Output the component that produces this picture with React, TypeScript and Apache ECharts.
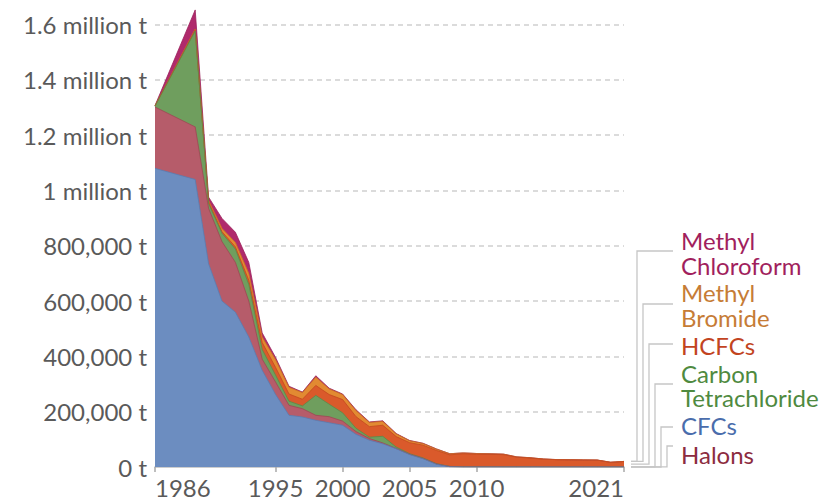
import React, { useEffect, useRef } from 'react';
import * as echarts from 'echarts';

// Years with data (1987 and 1988 are not in the source)
const YEARS = [
  1986, 1989, 1990, 1991, 1992, 1993, 1994, 1995, 1996, 1997, 1998, 1999, 2000,
  2001, 2002, 2003, 2004, 2005, 2006, 2007, 2008, 2009, 2010, 2011, 2012, 2013,
  2014, 2015, 2016, 2017, 2018, 2019, 2020, 2021,
];

// Consumption, tonnes (ODP-weighted)
const CFCS = [
  1080000, 1040000, 735000, 600000, 560000, 470000, 350000, 262000, 187000, 181000,
  169000, 160000, 151000, 118000, 97000, 84000, 66000, 45000, 30000, 10000, 1000,
  0, 0, 0, 0, 0, 0, 0, 0, 0, 0, 0, 0, 0,
];
const HALONS = [
  222000, 190000, 200000, 215000, 180000, 130000, 40000, 45000, 36000, 30000,
  18000, 22000, 15000, 10000, 6000, 3000, 1000, 1000, 1000, 1000, 500,
  500, 400, 400, 300, 300, 300, 200, 200, 200, 200, 200, 200, 200,
];
const CARBON_TET = [
  3000, 347000, 18000, 30000, 48000, 60000, 35000, 25000, 15000, 10000,
  72000, 45000, 30000, 12000, 5000, 24000, 5000, 2000, 2000, 1000, 500,
  500, 400, 400, 300, 300, 300, 200, 200, 200, 200, 200, 200, 200,
];
const HCFCS = [
  1000, 4000, 5000, 6000, 8000, 15000, 25000, 28000, 26000, 24000,
  36000, 35000, 48000, 42000, 38000, 40000, 38000, 40000, 46000, 48000, 42000,
  47000, 45000, 45000, 44000, 35000, 32000, 28000, 26000, 25500, 25000, 24500, 16500, 19500,
];
const METHYL_BROMIDE = [
  0, 3000, 6000, 12000, 16000, 25000, 20000, 28000, 24000, 24000,
  30000, 20000, 18000, 22000, 15000, 14000, 10000, 7000, 6000, 5000, 4000,
  3000, 3000, 2000, 2000, 1000, 1000, 500, 400, 300, 300, 300, 300, 300,
];
const METHYL_CHLOROFORM = [
  1000, 69000, 12000, 36000, 37000, 40000, 15000, 8000, 4000, 2000,
  5000, 3000, 2000, 3000, 2000, 2000, 1000, 1000, 1000, 500, 0,
  0, 0, 0, 0, 0, 0, 0, 0, 0, 0, 0, 0, 0,
];

// Stacking order, bottom to top
const SERIES_NAMES = ['CFCs', 'Halons', 'Carbon Tetrachloride', 'HCFCs', 'Methyl Bromide', 'Methyl Chloroform'];
const SERIES_VALUES = [CFCS, HALONS, CARBON_TET, HCFCS, METHYL_BROMIDE, METHYL_CHLOROFORM];
const FILL_COLORS = ['#6c8dc0', '#b65c6a', '#6f9e5e', '#da5a2b', '#e28a32', '#b02a6c'];
const LINE_COLORS = ['#5b7cb0', '#a04654', '#5a8a4a', '#c4481f', '#cc7424', '#9a1f5a'];
const TEXT_COLORS = ['#4a6dac', '#8c2c40', '#4f8a3f', '#c2441f', '#c67c36', '#a11f5d'];

const X_TICKS = [1986, 1995, 2000, 2005, 2010, 2021];

// Legend (top to bottom): series index and label lines
const LEGEND_ORDER = [5, 4, 3, 2, 0, 1];
const LEGEND_LINES = [
  ['Methyl', 'Chloroform'],
  ['Methyl', 'Bromide'],
  ['HCFCs'],
  ['Carbon', 'Tetrachloride'],
  ['CFCs'],
  ['Halons'],
];
const LEGEND_TEXT_Y = [[240, 265], [292.5, 317.5], [345.5], [373, 397.5], [425], [454]];
const LEGEND_CONN_Y = [251, 304, 344, 384, 427, 446];
const LEGEND_CONN_X = [637, 643, 649, 655, 661, 667];

const FONT = 'Lato, "Noto Sans", sans-serif';
const FS = 24;

function fmtY(v: number): string {
  if (v === 0) return '0 t';
  if (v >= 1000000) return `${+(v / 1000000).toFixed(1)} million t`;
  return `${v.toLocaleString('en-US')} t`;
}

export default function App() {
  const ref = useRef<HTMLDivElement>(null);

  useEffect(() => {
    const el = ref.current;
    if (!el) return;
    const chart = echarts.init(el, null, { renderer: 'svg' });

    // cumulative tops of each layer (stack bottom to top)
    const cumulative: number[][] = [];
    SERIES_VALUES.forEach((arr, i) => {
      cumulative.push(arr.map((v, j) => v + (i > 0 ? cumulative[i - 1][j] : 0)));
    });

    // draw top layer first so lower layers paint over it
    const series = SERIES_VALUES.map((_, i) => i)
      .reverse()
      .map((i) => ({
        name: SERIES_NAMES[i],
        type: 'line',
        data: YEARS.map((y, j) => [y, cumulative[i][j]]),
        symbol: 'none',
        showSymbol: false,
        lineStyle: { width: 0.8, color: LINE_COLORS[i] },
        itemStyle: { color: FILL_COLORS[i] },
        areaStyle: { color: FILL_COLORS[i], opacity: 1, origin: 'start' },
      }));

    chart.setOption({
      animation: false,
      grid: { left: 155, right: 210, top: 8, bottom: 35, containLabel: false },
      xAxis: {
        type: 'value',
        min: 1986,
        max: 2021,
        axisLine: { show: true, lineStyle: { color: '#bdbdbd', width: 1.5 } },
        axisTick: { show: true, customValues: X_TICKS, length: 5, lineStyle: { color: '#a8a8a8', width: 1.5 } },
        axisLabel: {
          customValues: X_TICKS,
          color: '#5a5a5a',
          fontSize: FS,
          fontFamily: FONT,
          margin: 8,
          alignMinLabel: 'left',
          alignMaxLabel: 'right',
          formatter: (v: number) => String(v),
        },
        splitLine: { show: false },
      },
      yAxis: {
        type: 'value',
        min: 0,
        max: 1660000,
        interval: 200000,
        axisLine: { show: false },
        axisTick: { show: false },
        axisLabel: {
          color: '#5a5a5a',
          fontSize: FS,
          fontFamily: FONT,
          margin: 8,
          showMaxLabel: false,
          formatter: fmtY,
        },
        splitLine: {
          show: true,
          showMaxLine: false,
          showMinLine: false,
          lineStyle: { color: '#cfcfcf', width: 1.5, type: [5, 4] },
        },
      },
      series,
    });

    // Legend connectors start at each layer's end point
    const last = YEARS.length - 1;
    const endY = SERIES_VALUES.map((arr, i) => {
      const mid = cumulative[i][last] - arr[last] / 2;
      const p = chart.convertToPixel({ gridIndex: 0 }, [YEARS[last], mid]) as number[];
      return p[1];
    });
    const endX = (chart.convertToPixel({ gridIndex: 0 }, [YEARS[last], 0]) as number[])[0] + 7;

    const graphics: any[] = [];
    LEGEND_ORDER.forEach((si, k) => {
      const y0 = endY[si];
      const vx = LEGEND_CONN_X[k];
      const cy = LEGEND_CONN_Y[k];
      graphics.push({
        type: 'polyline',
        shape: { points: [[endX, y0], [vx, y0], [vx, cy], [673, cy]] },
        style: { stroke: '#c6c6c6', lineWidth: 1.3, fill: 'none' },
        silent: true,
      });
      LEGEND_LINES[k].forEach((t, li) => {
        graphics.push({
          type: 'text',
          x: 681,
          y: LEGEND_TEXT_Y[k][li],
          style: {
            text: t,
            fill: TEXT_COLORS[si],
            fontSize: FS,
            fontFamily: FONT,
            lineHeight: 21,
            verticalAlign: 'middle',
            align: 'left',
          },
          silent: true,
        });
      });
    });
    chart.setOption({ graphic: graphics });

    return () => chart.dispose();
  }, []);

  return <div ref={ref} style={{ position: 'absolute', left: 0, top: 0, width: 834, height: 502 }} />;
}
